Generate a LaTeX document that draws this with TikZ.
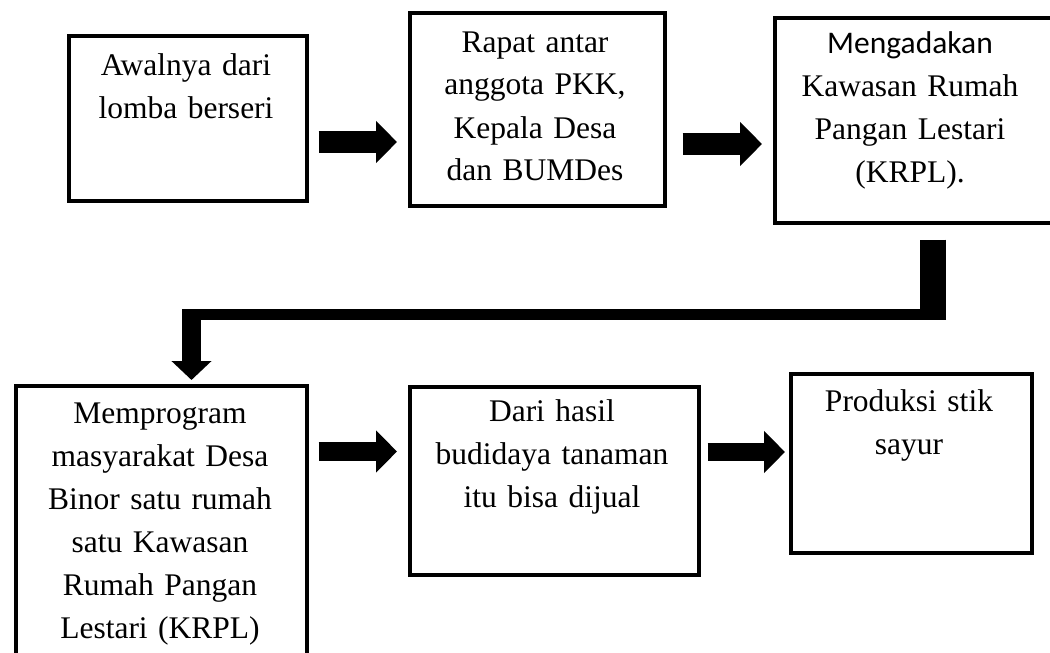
\documentclass[tikz,border=0pt]{standalone}
\usepackage{fontspec}
\setmainfont{Liberation Serif}
\newfontfamily\calibri{Carlito}
\usetikzlibrary{arrows.meta}
\begin{document}
\begin{tikzpicture}[x=1pt,y=-1pt,
  box/.style={draw=black, line width=3.7pt, anchor=north west, inner sep=0pt},
  txt/.style={anchor=base, align=center, inner sep=0pt, font=\fontsize{31.5pt}{43pt}\selectfont},
  blockarrow/.style={draw=black, line cap=butt}
]
\useasboundingbox (0,0) rectangle (1050,653);
\begin{scope}
\clip (0,0) rectangle (1050,653);
% boxes
\node[box, minimum width=238pt, minimum height=165pt] (b1) at (67,34) {};
\node[box, minimum width=255pt, minimum height=193pt] (b2) at (408,11) {};
\node[box, minimum width=320pt, minimum height=205pt] (b3) at (773,16) {};
\node[box, minimum width=291pt, minimum height=320pt] (b4) at (14,384) {};
\node[box, minimum width=289pt, minimum height=188pt] (b5) at (408,385) {};
\node[box, minimum width=241pt, minimum height=179pt] (b6) at (789,372) {};
\end{scope}
% texts
\node[txt, text width=238pt] (t1) at (186,75) {Awalnya dari\\lomba berseri};
\node[txt, text width=255pt] (t2) at (535,52) {Rapat antar\\anggota PKK,\\Kepala Desa\\dan BUMDes};
\node[txt, text width=270pt] (t3) at (910,53) {{\calibri Mengadakan}\\Kawasan Rumah\\Pangan Lestari\\(KRPL).};
\node[txt, text width=291pt] (t4) at (160,423) {Memprogram\\masyarakat Desa\\Binor satu rumah\\satu Kawasan\\Rumah Pangan\\Lestari (KRPL)};
\node[txt, text width=289pt] (t5) at (552,421) {Dari hasil\\budidaya tanaman\\itu bisa dijual};
\node[txt, text width=241pt] (t6) at (909,411) {Produksi stik\\sayur};
% horizontal block arrows
\draw[blockarrow, line width=22pt, shorten <=10pt, shorten >=11pt, -{Triangle[length=21pt,width=41pt]}]
  (b1.east |- 0,142) -- (b2.west |- 0,142);
\draw[blockarrow, line width=22pt, shorten <=16pt, shorten >=11pt, -{Triangle[length=22pt,width=43pt]}]
  (b2.east |- 0,144) -- (b3.west |- 0,144);
\draw[blockarrow, line width=19pt, shorten <=10pt, shorten >=11pt, -{Triangle[length=21pt,width=41pt]}]
  (b4.east |- 0,451.5) -- (b5.west |- 0,451.5);
\draw[blockarrow, line width=18pt, shorten <=7pt, shorten >=4pt, -{Triangle[length=21pt,width=41pt]}]
  (b5.east |- 0,452) -- (b6.west |- 0,452);
% elbow connector from b3 to b4
\coordinate (e1) at (933,309);
\coordinate (e2) at (946,314.5);
\coordinate (e3) at (182,314.5);
\coordinate (e4) at (191.5,309);
\draw[blockarrow, line width=26pt, shorten <=15pt] (b3.south -| e1) -- (e1);
\draw[blockarrow, line width=11pt] (e2) -- (e3);
\draw[blockarrow, line width=19pt, shorten >=4pt, -{Triangle[length=19pt,width=39pt]}] (e4) -- (b4.north -| e4);
\end{tikzpicture}
\end{document}
